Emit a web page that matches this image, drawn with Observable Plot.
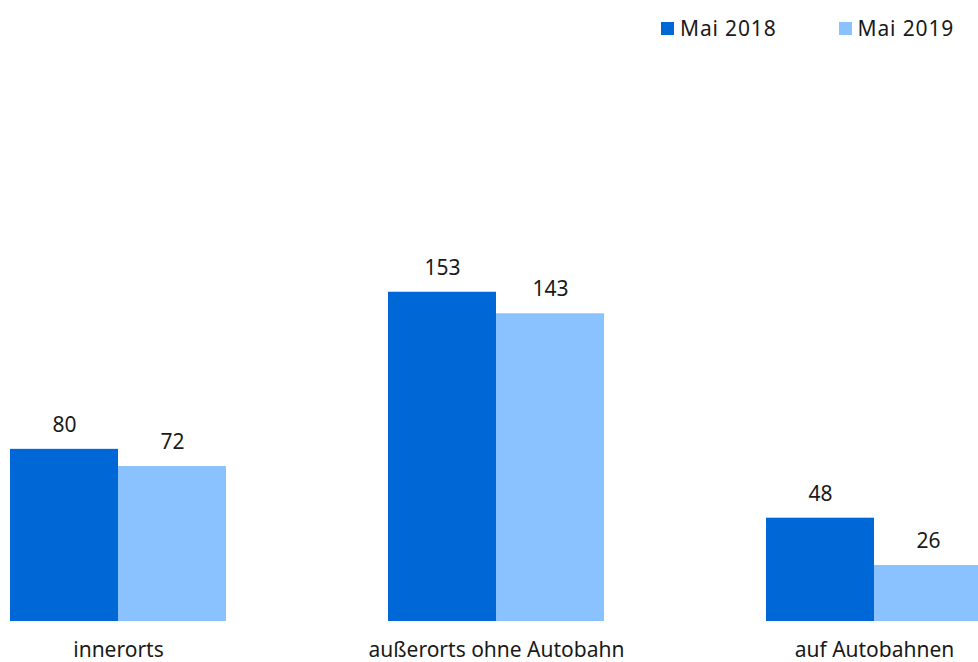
<!DOCTYPE html>
<html>
<head>
<meta charset="utf-8">
<script src="https://cdn.jsdelivr.net/npm/d3@7"></script>
<script src="https://cdn.jsdelivr.net/npm/@observablehq/plot@0.6"></script>
<style>
  html, body { margin: 0; padding: 0; background: #fff; overflow: hidden; }
  #wrap { position: relative; width: 978px; height: 662px; overflow: hidden; font-family: "Noto Sans", sans-serif; color: #1a1a1a; }
  #legend { position: absolute; top: 13px; left: 661px; height: 30px; display: flex; align-items: center; font-size: 21px; letter-spacing: 0.85px; white-space: nowrap; }
  .item { display: flex; align-items: center; }
  .sw { width: 13px; height: 13px; margin-right: 6px; }
  #chart { position: absolute; top: 50px; left: 0; width: 984px; }
  #chart svg { max-width: none !important; }
</style>
</head>
<body>
<div id="wrap">
  <div id="legend"></div>
  <div id="chart"></div>
</div>
<script>
const categories = ["innerorts", "außerorts ohne Autobahn", "auf Autobahnen"];
const series = ["Mai 2018", "Mai 2019"];
const values2018 = [80, 153, 48];
const values2019 = [72, 143, 26];
const colors = ["#0068d6", "#8ac2ff"];

const data = [];
categories.forEach((c, i) => {
  data.push({category: c, series: series[0], value: values2018[i]});
  data.push({category: c, series: series[1], value: values2019[i]});
});

// legend
const legend = document.getElementById("legend");
series.forEach((s, i) => {
  const it = document.createElement("div");
  it.className = "item";
  if (i === 0) it.style.marginRight = "62px";
  const sw = document.createElement("div");
  sw.className = "sw";
  sw.style.background = colors[i];
  const t = document.createElement("span");
  t.textContent = s;
  it.appendChild(sw); it.appendChild(t);
  legend.appendChild(it);
});

const chart = Plot.plot({
  width: 984,
  height: 612,
  marginLeft: 9,
  marginRight: 0,
  marginTop: 33,
  marginBottom: 41,
  style: {fontFamily: "Noto Sans", fontSize: "21px", color: "#1a1a1a", background: "#fff", maxWidth: "none"},
  fx: {domain: categories, paddingInner: 0.4274, paddingOuter: 0, label: null},
  x: {domain: series, padding: 0, axis: null},
  y: {domain: [0, 250], axis: null},
  color: {domain: series, range: colors},
  marks: [
    Plot.barY(data, {fx: "category", x: "series", y: "value", fill: "series"}),
    Plot.text(data, {fx: "category", x: "series", y: "value", text: d => String(d.value), dy: -24, lineAnchor: "middle", fontSize: 21, fill: "#1a1a1a"}),
    Plot.axisFx({anchor: "bottom", tickSize: 0, tickPadding: 21, fontSize: 21, label: null})
  ]
});
chart.style.maxWidth = "none";
document.getElementById("chart").appendChild(chart);
</script>
</body>
</html>
